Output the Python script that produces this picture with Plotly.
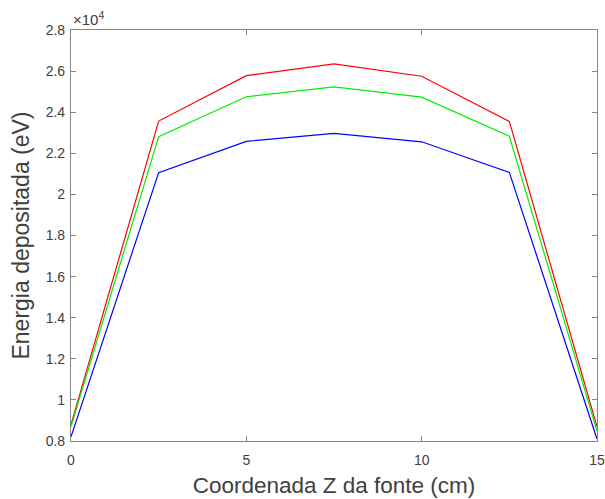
import plotly.graph_objects as go

# Source position along Z (cm)
z_cm = [0, 2.5, 5, 7.5, 10, 12.5, 15]

# Deposited energy (eV) for each configuration
energia_vermelho = [8800, 23570, 25780, 26350, 25750, 23550, 8700]
energia_verde = [8700, 22810, 24750, 25230, 24730, 22830, 8500]
energia_azul = [8200, 21060, 22580, 22970, 22560, 21070, 8100]

# Axis ticks
x_ticks = [0, 5, 10, 15]
y_tickvals = [8000, 10000, 12000, 14000, 16000, 18000, 20000, 22000, 24000, 26000, 28000]
y_ticktext = ["0.8", "1", "1.2", "1.4", "1.6", "1.8", "2", "2.2", "2.4", "2.6", "2.8"]

FONT = "Liberation Sans, Arial, Helvetica, sans-serif"
AXIS_GRAY = "#868686"
TEXT_GRAY = "#404040"

fig = go.Figure()
for serie, cor in [(energia_vermelho, "#ff0000"),
                   (energia_verde, "#00ee00"),
                   (energia_azul, "#0000ff")]:
    fig.add_trace(go.Scatter(x=z_cm, y=serie, mode="lines",
                             line=dict(color=cor, width=1.2),
                             showlegend=False, hoverinfo="skip"))

axis_common = dict(
    showline=True, linecolor=AXIS_GRAY, linewidth=1.2, mirror="ticks",
    ticks="inside", ticklen=5, tickcolor=AXIS_GRAY, tickwidth=1,
    showgrid=False, zeroline=False, automargin=False,
    tickfont=dict(family=FONT, size=14, color=TEXT_GRAY),
)

fig.update_xaxes(range=[0, 15], tickvals=x_ticks, ticklabelstandoff=6,
                 title=dict(text="Coordenada Z da fonte (cm)",
                            font=dict(family=FONT, size=22.5, color=TEXT_GRAY),
                            standoff=10),
                 **axis_common)
fig.update_yaxes(range=[8000, 28000], tickvals=y_tickvals, ticktext=y_ticktext,
                 ticklabelstandoff=2,
                 title=dict(text="Energia depositada (eV)",
                            font=dict(family=FONT, size=23, color=TEXT_GRAY),
                            standoff=9),
                 **axis_common)

# Exponent multiplier shown above the y axis
fig.add_annotation(text="×10<sup>4</sup>", xref="paper", yref="paper",
                   x=0, y=1, xanchor="left", yanchor="bottom", yshift=0,
                   showarrow=False,
                   font=dict(family=FONT, size=15, color=TEXT_GRAY))

fig.update_layout(
    width=605, height=499,
    margin=dict(l=71, r=8, t=30, b=58),
    paper_bgcolor="white", plot_bgcolor="white",
)

fig.write_html("out.html")
